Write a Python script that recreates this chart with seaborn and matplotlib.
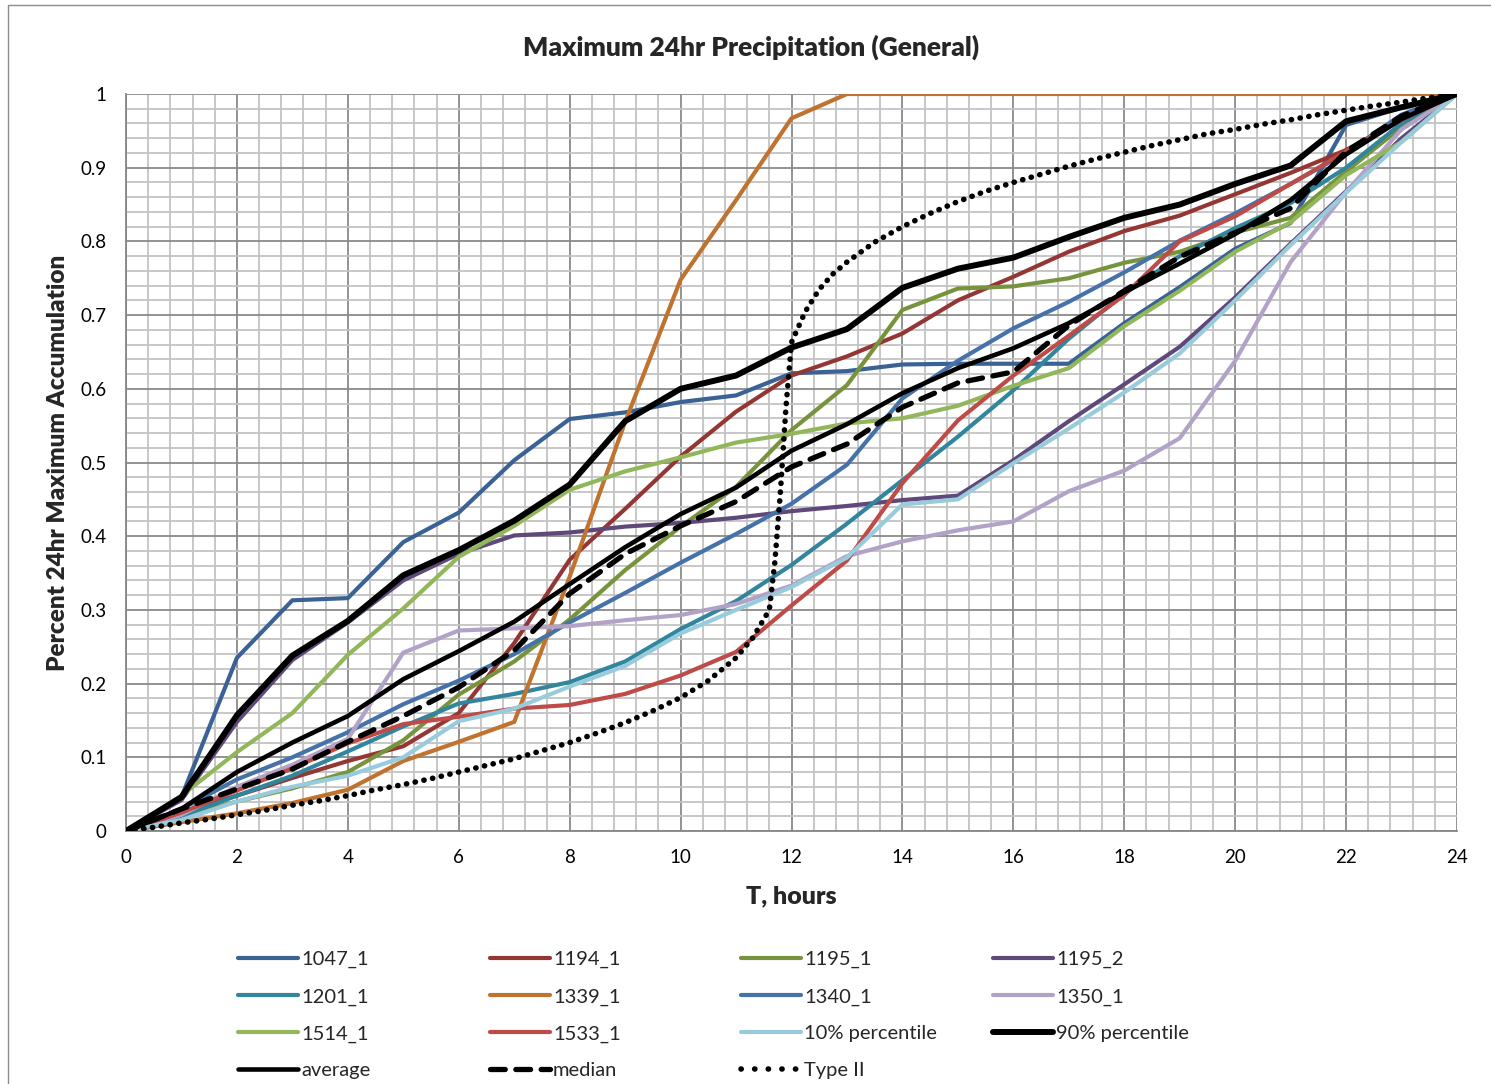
import matplotlib
matplotlib.use("Agg")
import matplotlib.pyplot as plt
from matplotlib.patches import Rectangle
from matplotlib.lines import Line2D
from matplotlib.ticker import MultipleLocator
import seaborn as sns
import pandas as pd

# ---------------- data ----------------
hours = list(range(25))
s1047_1 = [0, 0.046, 0.235, 0.313, 0.316, 0.392, 0.432, 0.503, 0.559, 0.568, 0.582, 0.591, 0.621, 0.624, 0.633, 0.634, 0.634, 0.634, 0.689, 0.738, 0.790, 0.825, 0.958, 0.982, 1.0]
s1194_1 = [0, 0.025, 0.048, 0.072, 0.095, 0.115, 0.160, 0.255, 0.368, 0.437, 0.508, 0.569, 0.618, 0.644, 0.675, 0.720, 0.752, 0.786, 0.814, 0.835, 0.864, 0.893, 0.924, 0.965, 1.0]
s1195_1 = [0, 0.020, 0.040, 0.058, 0.080, 0.123, 0.185, 0.230, 0.287, 0.354, 0.413, 0.467, 0.544, 0.605, 0.707, 0.736, 0.739, 0.750, 0.771, 0.786, 0.812, 0.832, 0.895, 0.955, 1.0]
s1195_2 = [0, 0.042, 0.148, 0.232, 0.283, 0.340, 0.376, 0.401, 0.405, 0.413, 0.418, 0.425, 0.434, 0.441, 0.449, 0.455, 0.503, 0.556, 0.606, 0.657, 0.724, 0.797, 0.868, 0.940, 1.0]
s1201_1 = [0, 0.020, 0.048, 0.075, 0.108, 0.142, 0.173, 0.186, 0.202, 0.230, 0.274, 0.312, 0.361, 0.417, 0.476, 0.535, 0.598, 0.668, 0.729, 0.780, 0.818, 0.852, 0.900, 0.960, 1.0]
s1339_1 = [0, 0.012, 0.024, 0.038, 0.056, 0.095, 0.121, 0.148, 0.345, 0.555, 0.748, 0.856, 0.967, 1.0, 1.0, 1.0, 1.0, 1.0, 1.0, 1.0, 1.0, 1.0, 1.0, 1.0, 1.0]
s1340_1 = [0, 0.030, 0.070, 0.100, 0.134, 0.172, 0.204, 0.240, 0.283, 0.323, 0.364, 0.403, 0.444, 0.497, 0.587, 0.638, 0.682, 0.718, 0.758, 0.801, 0.838, 0.878, 0.920, 0.972, 1.0]
s1350_1 = [0, 0.022, 0.060, 0.090, 0.125, 0.242, 0.272, 0.275, 0.278, 0.286, 0.293, 0.308, 0.333, 0.373, 0.393, 0.408, 0.420, 0.461, 0.489, 0.533, 0.638, 0.772, 0.867, 0.952, 1.0]
s1514_1 = [0, 0.048, 0.107, 0.160, 0.239, 0.302, 0.372, 0.414, 0.463, 0.488, 0.507, 0.527, 0.539, 0.553, 0.560, 0.577, 0.604, 0.628, 0.685, 0.733, 0.786, 0.826, 0.890, 0.935, 1.0]
s1533_1 = [0, 0.025, 0.055, 0.085, 0.119, 0.145, 0.155, 0.166, 0.171, 0.186, 0.211, 0.243, 0.306, 0.367, 0.472, 0.557, 0.618, 0.672, 0.727, 0.800, 0.834, 0.878, 0.922, 0.965, 1.0]
p10 = [0, 0.015, 0.040, 0.060, 0.075, 0.100, 0.149, 0.166, 0.196, 0.224, 0.268, 0.300, 0.331, 0.371, 0.443, 0.450, 0.499, 0.546, 0.595, 0.648, 0.720, 0.795, 0.866, 0.935, 1.0]
p90 = [0, 0.046, 0.157, 0.238, 0.285, 0.347, 0.381, 0.421, 0.470, 0.556, 0.600, 0.618, 0.656, 0.681, 0.737, 0.763, 0.778, 0.806, 0.832, 0.850, 0.878, 0.903, 0.963, 0.982, 1.0]
average = [0, 0.030, 0.080, 0.120, 0.156, 0.206, 0.244, 0.284, 0.335, 0.385, 0.430, 0.466, 0.516, 0.552, 0.594, 0.628, 0.655, 0.689, 0.731, 0.770, 0.810, 0.856, 0.918, 0.966, 1.0]
median = [0, 0.030, 0.057, 0.084, 0.121, 0.156, 0.195, 0.245, 0.322, 0.376, 0.414, 0.447, 0.494, 0.525, 0.575, 0.608, 0.623, 0.686, 0.733, 0.779, 0.812, 0.845, 0.922, 0.970, 1.0]

t2_hours = [0, 0.5, 1, 1.5, 2, 2.5, 3, 3.5, 4, 4.5, 5, 5.5, 6, 6.5, 7, 7.5, 8, 8.5, 9, 9.5, 10, 10.5, 11, 11.3, 11.6, 11.7, 11.8, 11.9, 12,
            12.25, 12.5, 12.75, 13, 13.5, 14, 14.5, 15, 15.5, 16, 16.5, 17, 17.5, 18, 18.5, 19, 19.5, 20, 20.5, 21, 21.5, 22, 22.5, 23, 23.5, 24]
t2_vals = [0, 0.005, 0.011, 0.016, 0.022, 0.028, 0.035, 0.041, 0.048, 0.056, 0.063, 0.071, 0.080, 0.089, 0.098, 0.109, 0.120, 0.133, 0.147, 0.163, 0.181, 0.204, 0.235, 0.262, 0.300, 0.365, 0.460, 0.575, 0.663,
           0.705, 0.735, 0.756, 0.772, 0.799, 0.820, 0.838, 0.854, 0.868, 0.880, 0.891, 0.902, 0.912, 0.921, 0.930, 0.938, 0.946, 0.952, 0.959, 0.965, 0.972, 0.978, 0.984, 0.989, 0.995, 1.0]

series_names = ["1047_1", "1194_1", "1195_1", "1195_2", "1201_1", "1339_1", "1340_1", "1350_1",
                "1514_1", "1533_1", "10% percentile", "90% percentile", "average", "median"]
series_values = [s1047_1, s1194_1, s1195_1, s1195_2, s1201_1, s1339_1, s1340_1, s1350_1,
                 s1514_1, s1533_1, p10, p90, average, median]

# ---------------- styles ----------------
colors = {
    "1047_1": "#3A6295", "1194_1": "#943634", "1195_1": "#77933C", "1195_2": "#5F497A",
    "1201_1": "#31859C", "1339_1": "#C0722F", "1340_1": "#4672AA", "1350_1": "#B3A2C7",
    "1514_1": "#92B65A", "1533_1": "#BE4B48", "10% percentile": "#98CBDC",
    "90% percentile": "black", "average": "black", "median": "black", "Type II": "black",
}
widths = {n: 3.0 for n in colors}
widths["90% percentile"] = 4.3
widths["average"] = 3.3
widths["median"] = 3.8
widths["Type II"] = 4.0

sns.set_style("white")
plt.rcParams["font.family"] = ["Lato", "DejaVu Sans"]

fig = plt.figure(figsize=(14.91, 10.84), dpi=100)
ax = fig.add_axes([126 / 1491, 1 - 831 / 1084, (1457 - 126) / 1491, (831 - 94) / 1084])

handles = {}
for name, vals in zip(series_names, series_values):
    df = pd.DataFrame({"T": hours, "v": vals})
    sns.lineplot(data=df, x="T", y="v", ax=ax, color=colors[name], lw=widths[name],
                 label=name, legend=False, zorder=3)
    ln = ax.get_lines()[-1]
    ln.set_solid_joinstyle("round")
    if name == "median":
        ln.set_dashes([2.8, 2.0])
        ln.set_dash_capstyle("round")
    handles[name] = ln

df2 = pd.DataFrame({"T": t2_hours, "v": t2_vals})
sns.lineplot(data=df2, x="T", y="v", ax=ax, color="black", lw=widths["Type II"],
             label="Type II", legend=False, zorder=3)
ln = ax.get_lines()[-1]
ln.set_dashes([0.05, 1.55])
ln.set_dash_capstyle("round")
# legend key for Type II shows wider-spaced dots, as in the original
handles["Type II"] = Line2D([], [], color="black", lw=4.0, dashes=[0.05, 2.4],
                            dash_capstyle="round")

# ---------------- axes ----------------
ax.set_xlim(0, 24)
ax.set_ylim(0, 1)
ax.xaxis.set_major_locator(MultipleLocator(2))
ax.xaxis.set_minor_locator(MultipleLocator(0.4))
ax.yaxis.set_major_locator(MultipleLocator(0.1))
ax.yaxis.set_minor_locator(MultipleLocator(0.02))
ax.grid(which="minor", color="#C3C3C3", lw=1.3, zorder=0)
ax.grid(which="major", color="#8A8A8A", lw=1.3, zorder=1)
ax.set_axisbelow(True)
for side in ["top", "right"]:
    ax.spines[side].set_visible(False)
for side in ["left", "bottom"]:
    ax.spines[side].set_color("#868686")
    ax.spines[side].set_linewidth(1.3)
ax.tick_params(which="major", direction="out", length=4, width=1.2, color="#868686",
               labelsize=13.5, labelcolor="black")
ax.tick_params(which="minor", length=0)
ax.tick_params(axis="x", pad=9)
ax.tick_params(axis="y", pad=10)
ax.set_xticklabels([f"{int(v)}" for v in ax.get_xticks()])
ax.set_yticks([i / 10 for i in range(11)])
ax.set_yticklabels(["0"] + [f"{i/10:.1f}" for i in range(1, 10)] + ["1"])

ax.set_xlabel("T, hours", fontsize=18, fontweight="heavy", labelpad=14)
ax.set_ylabel("Percent 24hr Maximum Accumulation", fontsize=17.5, fontweight="heavy", labelpad=8)
fig.text(751 / 1491, 1 - 47 / 1084, "Maximum 24hr Precipitation (General)",
         ha="center", va="center", fontsize=19, fontweight="heavy")

# chart border
fig.patches.append(Rectangle((8 / 1491, -0.1), 2, 0.1 + 1 - 5 / 1084, transform=fig.transFigure,
                             fill=False, edgecolor="#8C8C8C", lw=1.0))

# ---------------- legend (row-major, 4 equal columns) ----------------
order = ["1047_1", "1194_1", "1195_1", "1195_2",
         "1201_1", "1339_1", "1340_1", "1350_1",
         "1514_1", "1533_1", "10% percentile", "90% percentile",
         "average", "median", "Type II"]
col_x = [240, 492, 743, 995]
for c in range(4):
    names = order[c::4]
    leg = fig.legend([handles[n] for n in names], names, loc="upper left",
                     bbox_to_anchor=((col_x[c] - 8) / 1491, 1 - 945 / 1084),
                     frameon=False, fontsize=14.5, handlelength=3.0, handletextpad=0.12,
                     labelspacing=0.98, borderaxespad=0, borderpad=0.3)

fig.savefig("out.png", dpi=100)
